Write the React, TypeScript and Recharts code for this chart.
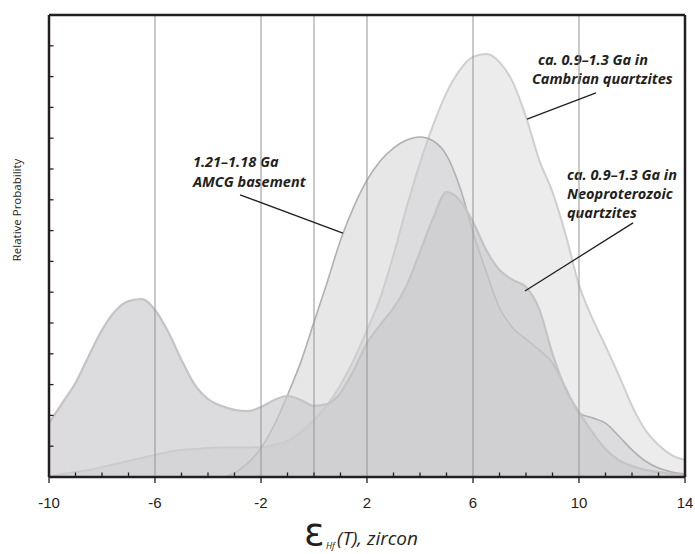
import { Area, AreaChart, Customized, ReferenceLine, XAxis, YAxis } from "recharts";

// εHf(T) grid, step 0.5
const epsilonHf = [
  -10, -9.5, -9, -8.5, -8, -7.5, -7, -6.5, -6, -5.5, -5, -4.5, -4, -3.5, -3, -2.5, -2,
  -1.5, -1, -0.5, 0, 0.5, 1, 1.5, 2, 2.5, 3, 3.5, 4, 4.5, 5, 5.5, 6, 6.5, 7, 7.5, 8,
  8.5, 9, 9.5, 10, 10.5, 11, 11.5, 12, 12.5, 13, 13.5, 14,
];

// ca. 0.9–1.3 Ga zircons in Cambrian quartzites
const cambrian = [
  0.02, 0.1, 0.16, 0.23, 0.32, 0.42, 0.52, 0.62, 0.71, 0.81, 0.88, 0.91, 0.94, 0.96, 0.96,
  0.96, 0.97, 1.04, 1.17, 1.46, 1.85, 2.34, 2.99, 3.8, 4.77, 5.81, 7.21, 8.77, 10.19, 11.43,
  12.47, 13.21, 13.64, 13.73, 13.47, 12.82, 11.69, 10.29, 9.25, 7.86, 6.23, 5.16, 4.25, 3.31,
  2.31, 1.53, 1.04, 0.71, 0.55,
];

// 1.21–1.18 Ga AMCG basement
const amcg = [
  0, 0, 0, 0, 0, 0, 0, 0, 0, 0, 0, 0, 0, 0, 0.13, 0.45, 0.94, 1.69, 2.66, 3.73, 5.03, 6.33,
  7.69, 8.77, 9.64, 10.26, 10.68, 10.94, 11.04, 10.91, 10.45, 9.42, 7.95, 6.66, 5.49, 4.84,
  4.48, 4.12, 3.7, 2.89, 2.08, 1.92, 1.75, 1.33, 0.88, 0.52, 0.29, 0.16, 0.1,
];

// ca. 0.9–1.3 Ga zircons in Neoproterozoic quartzites
const neoproterozoic = [
  1.75, 2.4, 3.05, 3.93, 4.77, 5.39, 5.71, 5.78, 5.42, 4.71, 3.8, 2.99, 2.53, 2.31, 2.18,
  2.14, 2.27, 2.5, 2.63, 2.5, 2.31, 2.37, 2.73, 3.47, 4.35, 4.94, 5.49, 6.23, 7.31, 8.41,
  9.25, 8.99, 8.28, 7.37, 6.72, 6.4, 6.17, 5.45, 4.0, 2.85, 2.11, 1.46, 0.91, 0.55, 0.36,
  0.23, 0.16, 0.1, 0.06,
];

const xTicks = [-10, -9, -8, -7, -6, -5, -4, -3, -2, -1, 0, 1, 2, 3, 4, 5, 6, 7, 8, 9, 10, 11, 12, 13, 14];
const xLabels = [-10, -6, -2, 2, 6, 10, 14];
const yTicks = [0, 1, 2, 3, 4, 5, 6, 7, 8, 9, 10, 11, 12, 13, 14, 15];
const gridLines = [-6, -2, 0, 2, 6, 10];

// leader lines from the labels to their curves
const leaders = [
  [{ x: -2.79, y: 9.16 }, { x: 1.09, y: 7.92 }],
  [{ x: 10.64, y: 12.47 }, { x: 8.04, y: 11.62 }],
  [{ x: 12.04, y: 8.25 }, { x: 7.96, y: 6.04 }],
];

const data = epsilonHf.map((x, i) => ({
  x,
  cambrian: cambrian[i],
  amcg: amcg[i],
  neoproterozoic: neoproterozoic[i],
}));

const INK = "#231f20";
const FILL = "#cacacc";

function XTick({ x, y, payload }: any) {
  const major = xLabels.includes(payload.value);
  return (
    <g>
      <line x1={x} x2={x} y1={y} y2={major ? y + 6 : y - 4.5} stroke={INK} strokeWidth={1.3} />
      {major && (
        <text x={x} y={y + 31} textAnchor="middle" fontFamily="'Liberation Sans', Arial, sans-serif" fontSize={15} fill={INK}>
          {payload.value}
        </text>
      )}
    </g>
  );
}

function YTick({ x, y }: any) {
  return <line x1={x} x2={x + 4.5} y1={y} y2={y} stroke={INK} strokeWidth={1.3} />;
}

function Annotations() {
  const label = {
    fontFamily: "'Open Sans', sans-serif",
    fontWeight: 700,
    fontStyle: "italic",
    fontSize: 14.5,
    fill: INK,
  } as const;
  return (
    <g>
      <text x={193} y={167} {...label}>1.21–1.18 Ga</text>
      <text x={193} y={187} {...label}>AMCG basement</text>

      <text x={538} y={65} {...label}>ca. 0.9–1.3 Ga in</text>
      <text x={532} y={84} {...label}>Cambrian quartzites</text>

      <text x={567} y={180} {...label}>ca. 0.9–1.3 Ga in</text>
      <text x={567} y={199} {...label}>Neoproterozoic</text>
      <text x={567} y={218} {...label}>quartzites</text>

      <text
        x={18}
        y={210}
        transform="rotate(-90 18 210)"
        textAnchor="middle"
        dominantBaseline="middle"
        fontFamily="'Open Sans', sans-serif"
        fontSize={11.5}
        fill={INK}
      >
        Relative Probability
      </text>

      <text x={304} y={545} fontFamily="'DejaVu Sans', sans-serif" fontSize={38} fill={INK}>ε</text>
      <text x={326} y={549} fontFamily="'Open Sans', sans-serif" fontStyle="italic" fontSize={9} fill={INK}>Hf</text>
      <text x={337} y={545} fontFamily="'Open Sans', sans-serif" fontStyle="italic" fontSize={19} fill={INK}>(T), zircon</text>
    </g>
  );
}

export default function App() {
  return (
    <div style={{ width: 695, height: 554 }}>
      <style>{"body{margin:0}"}</style>
      <AreaChart width={695} height={554} data={data} margin={{ top: 15, right: 10, bottom: 0, left: 8 }}>
        <XAxis
          dataKey="x"
          type="number"
          domain={[-10, 14]}
          ticks={xTicks}
          interval={0}
          tickSize={0}
          tickMargin={0}
          tickLine={false}
          tick={<XTick />}
          height={77}
          axisLine={{ stroke: INK, strokeWidth: 2.5 }}
          allowDataOverflow
        />
        <YAxis
          type="number"
          domain={[0, 15]}
          ticks={yTicks}
          interval={0}
          tickSize={0}
          tickMargin={0}
          tickLine={false}
          tick={<YTick />}
          width={41}
          axisLine={{ stroke: INK, strokeWidth: 2.5 }}
          allowDataOverflow
        />
        <Area
          type="monotone"
          dataKey="cambrian"
          stroke="#cfcfd0"
          strokeWidth={2}
          fill={FILL}
          fillOpacity={0.36}
          dot={false}
          activeDot={false}
          isAnimationActive={false}
        />
        <Area
          type="monotone"
          dataKey="amcg"
          stroke="#b0b0b2"
          strokeWidth={1.6}
          fill={FILL}
          fillOpacity={0.45}
          dot={false}
          activeDot={false}
          isAnimationActive={false}
        />
        <Area
          type="monotone"
          dataKey="neoproterozoic"
          stroke="#c4c4c6"
          strokeWidth={2.2}
          fill={FILL}
          fillOpacity={0.65}
          dot={false}
          activeDot={false}
          isAnimationActive={false}
        />
        {gridLines.map((g) => (
          <ReferenceLine key={g} x={g} stroke="#939393" strokeWidth={1} />
        ))}
        {leaders.map((seg, i) => (
          <ReferenceLine key={`l${i}`} segment={seg} stroke={INK} strokeWidth={1.3} ifOverflow="visible" />
        ))}
        <ReferenceLine y={15} stroke={INK} strokeWidth={2.5} ifOverflow="visible" />
        <ReferenceLine x={14} stroke={INK} strokeWidth={2.5} ifOverflow="visible" />
        <Customized component={<Annotations />} />
      </AreaChart>
    </div>
  );
}
